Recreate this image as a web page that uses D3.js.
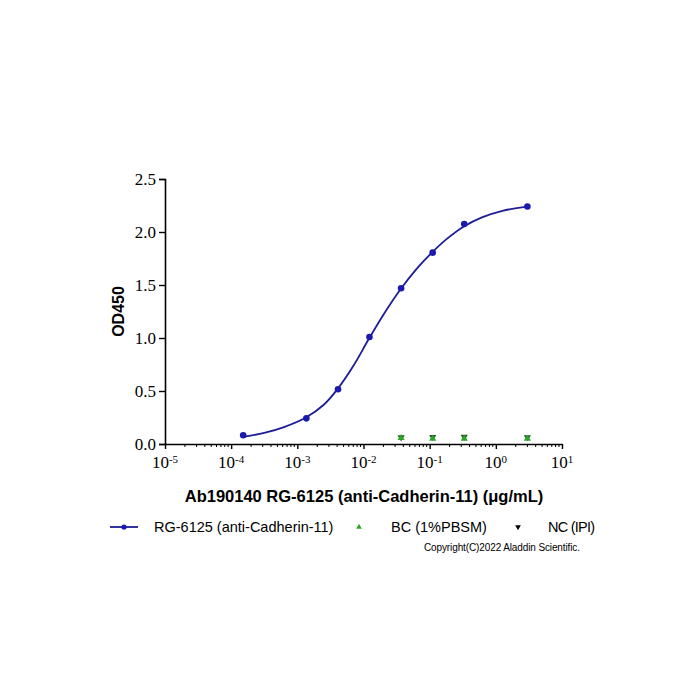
<!DOCTYPE html>
<html>
<head>
<meta charset="utf-8">
<script src="https://cdn.jsdelivr.net/npm/d3@7"></script>
<style>
  body { margin: 0; background: #fff; }
  svg { display: block; }
</style>
</head>
<body>
<div id="wrapper"></div>
<script>
// concentrations (ug/mL) and OD450 readings
const rgConc = [0.000152, 0.00137, 0.00412, 0.0123, 0.037, 0.111, 0.333, 3];
const rgOD = [0.082, 0.242, 0.516, 1.01, 1.47, 1.805, 2.075, 2.24];

// fitted curve
const fitConc = [0.000158, 0.000316, 0.00063, 0.00135, 0.00251, 0.00407, 0.00708, 0.012, 0.02, 0.0363, 0.063, 0.106, 0.178, 0.324, 0.63, 1.26, 3.02];
const fitOD = [0.069, 0.105, 0.16, 0.25, 0.37, 0.52, 0.74, 0.99, 1.22, 1.46, 1.65, 1.8, 1.93, 2.05, 2.14, 2.2, 2.24];

const bcConc = [0.037, 0.111, 0.333, 3];
const bcOD = [0.056, 0.05, 0.05, 0.05];
const ncConc = [0.037, 0.111, 0.333, 3];
const ncOD = [0.062, 0.066, 0.068, 0.064];

const yTicks = [0, 0.5, 1.0, 1.5, 2.0, 2.5];
const xExponents = [-5, -4, -3, -2, -1, 0, 1];

const seriesNames = ["RG-6125 (anti-Cadherin-11)", "BC (1%PBSM)", "NC (IPI)"];
const xTitle = "Ab190140 RG-6125 (anti-Cadherin-11) (\u03bcg/mL)";
const yTitle = "OD450";
const copyright = "Copyright(C)2022 Aladdin Scientific.";

const width = 700;
const height = 700;
const plot = { left: 165, right: 562, top: 179, bottom: 444 };
const blue = "#1d1d95";
const green = "#2aa52a";
const serif = "'Liberation Serif', 'Times New Roman', serif";
const sans = "'Liberation Sans', Arial, sans-serif";

const svg = d3
  .select("#wrapper")
  .append("svg")
  .attr("width", width)
  .attr("height", height);

const xScale = d3
  .scaleLog()
  .domain([1e-5, 10])
  .range([plot.left, plot.right]);

const yScale = d3
  .scaleLinear()
  .domain([0, 2.5])
  .range([plot.bottom, plot.top]);

// y axis
const yAxis = svg
  .append("g")
  .attr("transform", `translate(${plot.left},0)`)
  .call(
    d3.axisLeft(yScale)
      .tickValues(yTicks)
      .tickSize(6)
      .tickPadding(3)
      .tickFormat(d3.format(".1f"))
  );
yAxis.select(".domain").attr("stroke-width", 1.6);
yAxis.selectAll(".tick line").attr("stroke-width", 1.4);
yAxis.selectAll("text")
  .attr("font-family", serif)
  .attr("font-size", "17px")
  .attr("fill", "#000");

// x axis, majors
const majors = xExponents.map((e) => Math.pow(10, e));
const xAxis = svg
  .append("g")
  .attr("transform", `translate(0,${plot.bottom})`)
  .call(d3.axisBottom(xScale).tickValues(majors).tickSize(5).tickSizeOuter(0).tickFormat(""));
xAxis.select(".domain").attr("stroke-width", 1.6);
xAxis.selectAll(".tick line").attr("stroke-width", 1.4);

// minor ticks
const minors = xScale.ticks().filter((t) => !majors.some((m) => Math.abs(t / m - 1) < 1e-6));
xAxis
  .selectAll(".minor")
  .data(minors)
  .enter()
  .append("line")
  .attr("class", "minor")
  .attr("x1", (d) => xScale(d))
  .attr("x2", (d) => xScale(d))
  .attr("y1", 0)
  .attr("y2", 3)
  .attr("stroke", "#000")
  .attr("stroke-width", 1);

// power-of-ten labels
const xLabels = xAxis
  .selectAll(".xlab")
  .data(xExponents)
  .enter()
  .append("text")
  .attr("class", "xlab")
  .attr("x", (d) => xScale(Math.pow(10, d)))
  .attr("y", 24)
  .attr("text-anchor", "middle")
  .attr("font-family", serif)
  .attr("font-size", "17px")
  .attr("fill", "#000");
xLabels.append("tspan").text("10");
xLabels
  .append("tspan")
  .attr("dy", "-0.45em")
  .attr("font-size", "11px")
  .text((d) => d);

// fitted curve
const line = d3
  .line()
  .x((d, i) => xScale(fitConc[i]))
  .y((d) => yScale(d))
  .curve(d3.curveCatmullRom.alpha(0.5));

svg
  .append("path")
  .datum(fitOD)
  .attr("d", line)
  .attr("fill", "none")
  .attr("stroke", blue)
  .attr("stroke-width", 1.8);

// NC markers (down triangles)
const triDown = d3.symbol().type(d3.symbolTriangle).size(22);
svg
  .append("g")
  .selectAll("path")
  .data(ncOD)
  .enter()
  .append("path")
  .attr("d", triDown)
  .attr("transform", (d, i) => `translate(${xScale(ncConc[i])},${yScale(d)}) rotate(180)`)
  .attr("fill", "#1f5a1f");

// BC markers (up triangles)
svg
  .append("g")
  .selectAll("path")
  .data(bcOD)
  .enter()
  .append("path")
  .attr("d", d3.symbol().type(d3.symbolTriangle).size(22))
  .attr("transform", (d, i) => `translate(${xScale(bcConc[i])},${yScale(d)})`)
  .attr("fill", green);

// RG-6125 points
svg
  .append("g")
  .selectAll("circle")
  .data(rgOD)
  .enter()
  .append("circle")
  .attr("cx", (d, i) => xScale(rgConc[i]))
  .attr("cy", (d) => yScale(d))
  .attr("r", 3.3)
  .attr("fill", "#1a1ab0");

// axis titles
svg
  .append("text")
  .attr("transform", `translate(124,${(plot.top + plot.bottom) / 2}) rotate(-90)`)
  .attr("text-anchor", "middle")
  .attr("font-family", sans)
  .attr("font-weight", "bold")
  .attr("font-size", "16px")
  .text(yTitle);

svg
  .append("text")
  .attr("x", 364)
  .attr("y", 502)
  .attr("text-anchor", "middle")
  .attr("font-family", sans)
  .attr("font-weight", "bold")
  .attr("font-size", "16.5px")
  .text(xTitle);

// legend
const legend = svg.append("g").attr("font-family", sans).attr("font-size", "14.5px");
const legY = 527;

legend
  .append("line")
  .attr("x1", 110)
  .attr("x2", 138)
  .attr("y1", legY)
  .attr("y2", legY)
  .attr("stroke", blue)
  .attr("stroke-width", 1.8);
legend
  .append("circle")
  .attr("cx", 124)
  .attr("cy", legY)
  .attr("r", 2.6)
  .attr("fill", "#1a1ab0");
legend.append("text").attr("x", 154).attr("y", legY + 5).text(seriesNames[0]);

legend
  .append("path")
  .attr("d", d3.symbol().type(d3.symbolTriangle).size(14))
  .attr("transform", `translate(359,${legY})`)
  .attr("fill", green);
legend.append("text").attr("x", 391).attr("y", legY + 5).text(seriesNames[1]);

legend
  .append("path")
  .attr("d", d3.symbol().type(d3.symbolTriangle).size(14))
  .attr("transform", `translate(518,${legY}) rotate(180)`)
  .attr("fill", "#000");
legend.append("text").attr("x", 548).attr("y", legY + 5).attr("textLength", 47).text(seriesNames[2]);

svg
  .append("text")
  .attr("x", 424)
  .attr("y", 551)
  .attr("font-family", sans)
  .attr("font-size", "10px")
  .attr("textLength", 156)
  .text(copyright);
</script>
</body>
</html>
